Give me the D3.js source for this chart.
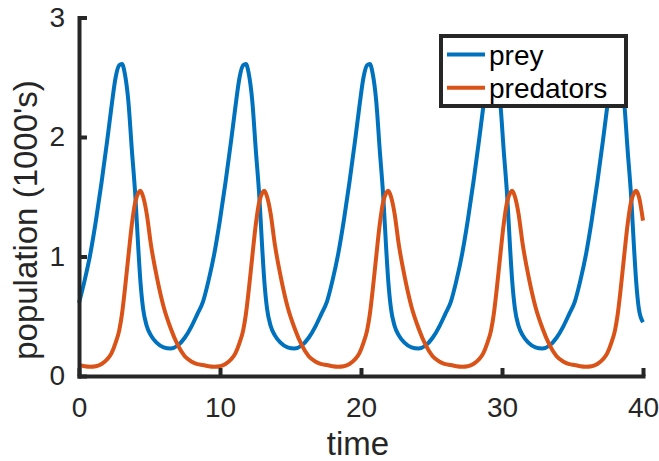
<!DOCTYPE html>
<html>
<head>
<meta charset="utf-8">
<script src="https://cdn.jsdelivr.net/npm/d3@7"></script>
<style>
  body { margin: 0; background: #fff; }
  svg { display: block; font-family: "Liberation Sans", Arial, Helvetica, sans-serif; }
</style>
</head>
<body>
<div id="chart"></div>
<script>
// values (population in 1000's)
var time = [
  0, 0.4, 0.8, 1.2, 1.6, 2.0, 2.3, 2.6, 2.85, 3.05, 3.25, 3.5, 3.75, 4.0, 4.2, 4.35, 4.55, 4.8, 5.1, 5.5, 6.0, 6.5, 7.0, 7.5, 8.0, 8.4,
  8.79, 9.19, 9.59, 9.99, 10.39, 10.79, 11.09, 11.39, 11.64, 11.84, 12.04, 12.29, 12.54, 12.79, 12.99, 13.14, 13.34, 13.59, 13.89, 14.29, 14.79, 15.29, 15.79, 16.29, 16.79, 17.19,
  17.58, 17.98, 18.38, 18.78, 19.18, 19.58, 19.88, 20.18, 20.43, 20.63, 20.83, 21.08, 21.33, 21.58, 21.78, 21.93, 22.13, 22.38, 22.68, 23.08, 23.58, 24.08, 24.58, 25.08, 25.58, 25.98,
  26.37, 26.77, 27.17, 27.57, 27.97, 28.37, 28.67, 28.97, 29.22, 29.42, 29.62, 29.87, 30.12, 30.37, 30.57, 30.72, 30.92, 31.17, 31.47, 31.87, 32.37, 32.87, 33.37, 33.87, 34.37, 34.77,
  35.16, 35.56, 35.96, 36.36, 36.76, 37.16, 37.46, 37.76, 38.01, 38.21, 38.41, 38.66, 38.91, 39.16, 39.36, 39.51, 39.71, 40
];
var prey = [
  0.61, 0.80, 1.02, 1.30, 1.62, 1.97, 2.25, 2.50, 2.60, 2.61, 2.53, 2.30, 1.89, 1.50, 1.08, 0.80, 0.56, 0.42, 0.34, 0.28, 0.24, 0.23, 0.255, 0.32, 0.42, 0.52,
  0.62, 0.80, 1.02, 1.30, 1.62, 1.97, 2.25, 2.50, 2.60, 2.61, 2.53, 2.30, 1.89, 1.50, 1.08, 0.80, 0.56, 0.42, 0.34, 0.28, 0.24, 0.23, 0.255, 0.32, 0.42, 0.52,
  0.62, 0.80, 1.02, 1.30, 1.62, 1.97, 2.25, 2.50, 2.60, 2.61, 2.53, 2.30, 1.89, 1.50, 1.08, 0.80, 0.56, 0.42, 0.34, 0.28, 0.24, 0.23, 0.255, 0.32, 0.42, 0.52,
  0.62, 0.80, 1.02, 1.30, 1.62, 1.97, 2.25, 2.50, 2.60, 2.61, 2.53, 2.30, 1.89, 1.50, 1.08, 0.80, 0.56, 0.42, 0.34, 0.28, 0.24, 0.23, 0.255, 0.32, 0.42, 0.52,
  0.62, 0.80, 1.02, 1.30, 1.62, 1.97, 2.25, 2.50, 2.60, 2.61, 2.53, 2.30, 1.89, 1.50, 1.08, 0.80, 0.56, 0.45
];
var predators = [
  0.092, 0.082, 0.078, 0.082, 0.10, 0.14, 0.19, 0.28, 0.38, 0.52, 0.72, 1.00, 1.27, 1.46, 1.53, 1.55, 1.50, 1.36, 1.10, 0.84, 0.58, 0.40, 0.26, 0.165, 0.12, 0.10,
  0.092, 0.082, 0.078, 0.082, 0.10, 0.14, 0.19, 0.28, 0.38, 0.52, 0.72, 1.00, 1.27, 1.46, 1.53, 1.55, 1.50, 1.36, 1.10, 0.84, 0.58, 0.40, 0.26, 0.165, 0.12, 0.10,
  0.092, 0.082, 0.078, 0.082, 0.10, 0.14, 0.19, 0.28, 0.38, 0.52, 0.72, 1.00, 1.27, 1.46, 1.53, 1.55, 1.50, 1.36, 1.10, 0.84, 0.58, 0.40, 0.26, 0.165, 0.12, 0.10,
  0.092, 0.082, 0.078, 0.082, 0.10, 0.14, 0.19, 0.28, 0.38, 0.52, 0.72, 1.00, 1.27, 1.46, 1.53, 1.55, 1.50, 1.36, 1.10, 0.84, 0.58, 0.40, 0.26, 0.165, 0.12, 0.10,
  0.092, 0.082, 0.078, 0.082, 0.10, 0.14, 0.19, 0.28, 0.38, 0.52, 0.72, 1.00, 1.27, 1.46, 1.53, 1.55, 1.50, 1.30
];
var seriesNames = ["prey", "predators"];
var xTicks = [0, 10, 20, 30, 40];
var yTicks = [0, 1, 2, 3];

function init() {
  var w = 659;
  var h = 461;
  var axisColour = "#262626";
  var colours = ["#0072BD", "#D95319"];

  var x = d3.scaleLinear().domain([0, 40]).range([79, 643]);
  var y = d3.scaleLinear().domain([0, 3]).range([376, 17.5]);

  var svg = d3.select("#chart")
    .append("svg")
    .attr("width", w)
    .attr("height", h)
    .style("background", "#fff");

  // series lines
  var line = d3.line()
    .x(function (d) { return x(d[0]); })
    .y(function (d) { return y(d[1]); })
    .curve(d3.curveMonotoneX);

  var series = [prey, predators].map(function (vals) {
    return time.map(function (t, i) { return [t, vals[i]]; });
  });

  svg.selectAll("path.series")
    .data(series)
    .enter()
    .append("path")
    .attr("class", "series")
    .attr("d", line)
    .attr("fill", "none")
    .attr("stroke", function (d, i) { return colours[i]; })
    .attr("stroke-width", 4)
    .attr("stroke-linejoin", "round");

  // axes, ticks pointing inward
  var xAxis = svg.append("g")
    .attr("transform", "translate(0," + y(0) + ")")
    .call(d3.axisBottom(x).tickValues(xTicks).tickFormat(d3.format("d"))
      .tickSizeInner(-8).tickSizeOuter(0).tickPadding(21));

  var yAxis = svg.append("g")
    .attr("transform", "translate(" + x(0) + ",0)")
    .call(d3.axisLeft(y).tickValues(yTicks).tickFormat(d3.format("d"))
      .tickSizeInner(-8).tickSizeOuter(0).tickPadding(14));

  [xAxis, yAxis].forEach(function (g) {
    g.select(".domain")
      .attr("stroke", axisColour)
      .attr("stroke-width", 4)
      .attr("stroke-linecap", "square");
    g.selectAll(".tick line")
      .attr("stroke", axisColour)
      .attr("stroke-width", 4);
    g.selectAll(".tick text")
      .attr("fill", axisColour)
      .style("font-size", "28px")
      .style("font-family", "'Liberation Sans', Arial, sans-serif");
  });

  // axis labels
  svg.append("text")
    .attr("x", 358)
    .attr("y", 455)
    .attr("text-anchor", "middle")
    .attr("fill", axisColour)
    .style("font-size", "33px")
    .text("time");

  svg.append("text")
    .attr("transform", "translate(37,220) rotate(-90)")
    .attr("text-anchor", "middle")
    .attr("fill", axisColour)
    .style("font-size", "33px")
    .text("population (1000's)");

  // legend
  var legend = svg.append("g");
  legend.append("rect")
    .attr("x", 441)
    .attr("y", 36)
    .attr("width", 185)
    .attr("height", 70)
    .attr("fill", "#fff")
    .attr("stroke", axisColour)
    .attr("stroke-width", 4);

  var rows = legend.selectAll("g.row")
    .data(seriesNames)
    .enter()
    .append("g")
    .attr("class", "row")
    .attr("transform", function (d, i) { return "translate(0," + (54.5 + i * 33.3) + ")"; });

  rows.append("line")
    .attr("x1", 447)
    .attr("x2", 485)
    .attr("stroke", function (d, i) { return colours[i]; })
    .attr("stroke-width", 4);

  rows.append("text")
    .attr("x", 489)
    .attr("y", 10.5)
    .attr("fill", "#000")
    .style("font-size", "28px")
    .text(function (d) { return d; });
}

window.onload = init;
</script>
</body>
</html>
